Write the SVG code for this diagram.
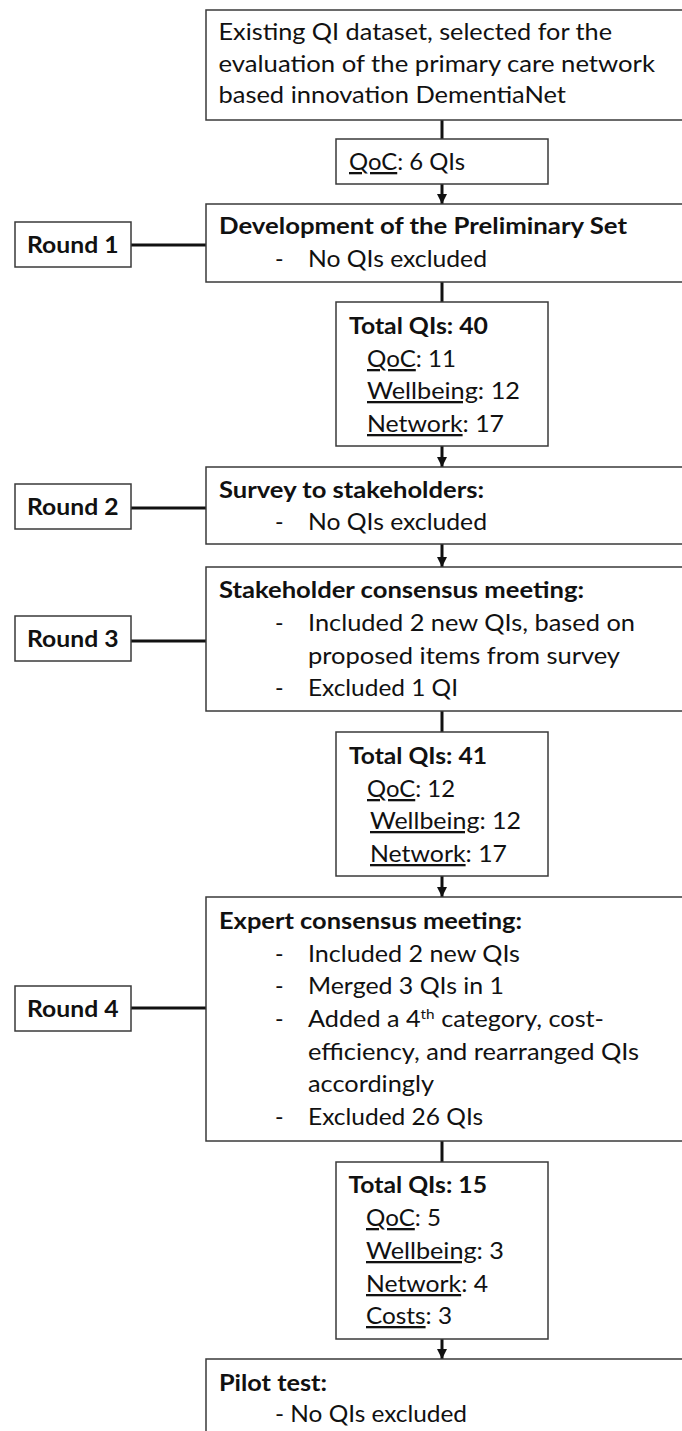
<svg xmlns="http://www.w3.org/2000/svg" width="682" height="1431" viewBox="0 0 682 1431">
<style>
.bg{fill:#ffffff}
.box{fill:#ffffff;stroke:#3a3a3a;stroke-width:1.5}
.con{stroke:#111;stroke-width:3;fill:none}
.t{font-family:Lato,"Liberation Sans",sans-serif;font-size:23px;fill:#111}
.b{font-weight:bold}
.u{text-decoration:underline}
</style>
<defs>
<marker id="ah" markerUnits="userSpaceOnUse" markerWidth="10" markerHeight="10" refX="10" refY="5" orient="auto">
<path d="M0,0 L10,5 L0,10 z" fill="#111"/>
</marker>
</defs>
<rect class="bg" x="0" y="0" width="682" height="1431"/>

<g id="connectors">
<line class="con" x1="442" y1="120" x2="442" y2="139"/>
<line class="con" x1="442" y1="184" x2="442" y2="204" marker-end="url(#ah)"/>
<line class="con" x1="442" y1="282" x2="442" y2="302"/>
<line class="con" x1="442" y1="446" x2="442" y2="467" marker-end="url(#ah)"/>
<line class="con" x1="442" y1="544" x2="442" y2="567" marker-end="url(#ah)"/>
<line class="con" x1="442" y1="711" x2="442" y2="732"/>
<line class="con" x1="442" y1="876" x2="442" y2="897" marker-end="url(#ah)"/>
<line class="con" x1="442" y1="1141" x2="442" y2="1162"/>
<line class="con" x1="442" y1="1339" x2="442" y2="1359" marker-end="url(#ah)"/>
<line class="con" x1="131" y1="245" x2="206" y2="245"/>
<line class="con" x1="131" y1="508" x2="206" y2="508"/>
<line class="con" x1="131" y1="641" x2="206" y2="641"/>
<line class="con" x1="131" y1="1008" x2="206" y2="1008"/>
</g>

<g id="existing">
<rect class="box" x="206" y="10" width="500" height="110"/>
<text class="t" x="218.5" y="40" textLength="393.5" lengthAdjust="spacingAndGlyphs">Existing QI dataset, selected for the</text>
<text class="t" x="218.5" y="71.5" textLength="436.5" lengthAdjust="spacingAndGlyphs">evaluation of the primary care network</text>
<text class="t" x="218.5" y="103" textLength="347.5" lengthAdjust="spacingAndGlyphs">based innovation DementiaNet</text>
</g>

<g id="qoc6">
<rect class="box" x="336" y="139" width="212" height="45"/>
<text class="t" x="349" y="170" textLength="116" lengthAdjust="spacingAndGlyphs"><tspan class="u">QoC</tspan>: 6 QIs</text>
</g>

<g id="round1">
<rect class="box" x="15" y="222" width="116" height="45"/>
<text class="t b" x="27" y="253" textLength="91.5" lengthAdjust="spacingAndGlyphs">Round 1</text>
</g>

<g id="development">
<rect class="box" x="206" y="204" width="500" height="78"/>
<text class="t b" x="219" y="234" textLength="408" lengthAdjust="spacingAndGlyphs">Development of the Preliminary Set</text>
<text class="t" x="275" y="267">-</text>
<text class="t" x="308" y="267" textLength="179" lengthAdjust="spacingAndGlyphs">No QIs excluded</text>
</g>

<g id="total40">
<rect class="box" x="336" y="302" width="212" height="144"/>
<text class="t b" x="349" y="334" textLength="139" lengthAdjust="spacingAndGlyphs">Total QIs: 40</text>
<text class="t" x="367" y="367" textLength="89" lengthAdjust="spacingAndGlyphs"><tspan class="u">QoC</tspan>: 11</text>
<text class="t" x="367" y="399" textLength="153" lengthAdjust="spacingAndGlyphs"><tspan class="u">Wellbeing</tspan>: 12</text>
<text class="t" x="367" y="432" textLength="137" lengthAdjust="spacingAndGlyphs"><tspan class="u">Network</tspan>: 17</text>
</g>

<g id="round2">
<rect class="box" x="15" y="484" width="116" height="45"/>
<text class="t b" x="27" y="515" textLength="91.5" lengthAdjust="spacingAndGlyphs">Round 2</text>
</g>

<g id="survey">
<rect class="box" x="206" y="467" width="500" height="77"/>
<text class="t b" x="219" y="498" textLength="265" lengthAdjust="spacingAndGlyphs">Survey to stakeholders:</text>
<text class="t" x="275" y="530">-</text>
<text class="t" x="308" y="530" textLength="179" lengthAdjust="spacingAndGlyphs">No QIs excluded</text>
</g>

<g id="round3">
<rect class="box" x="15" y="616" width="116" height="45"/>
<text class="t b" x="27" y="647" textLength="91.5" lengthAdjust="spacingAndGlyphs">Round 3</text>
</g>

<g id="stakeholder">
<rect class="box" x="206" y="567" width="500" height="144"/>
<text class="t b" x="219" y="598" textLength="365" lengthAdjust="spacingAndGlyphs">Stakeholder consensus meeting:</text>
<text class="t" x="275" y="631">-</text>
<text class="t" x="308" y="631" textLength="327" lengthAdjust="spacingAndGlyphs">Included 2 new QIs, based on</text>
<text class="t" x="308" y="664" textLength="312" lengthAdjust="spacingAndGlyphs">proposed items from survey</text>
<text class="t" x="275" y="696">-</text>
<text class="t" x="308" y="696" textLength="150" lengthAdjust="spacingAndGlyphs">Excluded 1 QI</text>
</g>

<g id="total41">
<rect class="box" x="336" y="732" width="212" height="144"/>
<text class="t b" x="349" y="764" textLength="138" lengthAdjust="spacingAndGlyphs">Total QIs: 41</text>
<text class="t" x="367" y="797" textLength="88" lengthAdjust="spacingAndGlyphs"><tspan class="u">QoC</tspan>: 12</text>
<text class="t" x="370" y="829" textLength="151" lengthAdjust="spacingAndGlyphs"><tspan class="u">Wellbeing</tspan>: 12</text>
<text class="t" x="370" y="862" textLength="137" lengthAdjust="spacingAndGlyphs"><tspan class="u">Network</tspan>: 17</text>
</g>

<g id="round4">
<rect class="box" x="15" y="986" width="116" height="45"/>
<text class="t b" x="27" y="1017" textLength="91.5" lengthAdjust="spacingAndGlyphs">Round 4</text>
</g>

<g id="expert">
<rect class="box" x="206" y="897" width="500" height="244"/>
<text class="t b" x="219" y="929" textLength="303" lengthAdjust="spacingAndGlyphs">Expert consensus meeting:</text>
<text class="t" x="275" y="962">-</text>
<text class="t" x="308" y="962" textLength="212" lengthAdjust="spacingAndGlyphs">Included 2 new QIs</text>
<text class="t" x="275" y="994">-</text>
<text class="t" x="308" y="994" textLength="196" lengthAdjust="spacingAndGlyphs">Merged 3 QIs in 1</text>
<text class="t" x="275" y="1027">-</text>
<text class="t" x="308" y="1027" textLength="296" lengthAdjust="spacingAndGlyphs">Added a 4<tspan dy="-8" font-size="14">th</tspan><tspan dy="8"> category, cost-</tspan></text>
<text class="t" x="308" y="1060" textLength="331" lengthAdjust="spacingAndGlyphs">efficiency, and rearranged QIs</text>
<text class="t" x="308" y="1092" textLength="126" lengthAdjust="spacingAndGlyphs">accordingly</text>
<text class="t" x="275" y="1125">-</text>
<text class="t" x="308" y="1125" textLength="175" lengthAdjust="spacingAndGlyphs">Excluded 26 QIs</text>
</g>

<g id="total15">
<rect class="box" x="336" y="1162" width="212" height="177"/>
<text class="t b" x="348.5" y="1193" textLength="138.5" lengthAdjust="spacingAndGlyphs">Total QIs: 15</text>
<text class="t" x="366" y="1226" textLength="75" lengthAdjust="spacingAndGlyphs"><tspan class="u">QoC</tspan>: 5</text>
<text class="t" x="366" y="1259" textLength="138" lengthAdjust="spacingAndGlyphs"><tspan class="u">Wellbeing</tspan>: 3</text>
<text class="t" x="366" y="1292" textLength="122" lengthAdjust="spacingAndGlyphs"><tspan class="u">Network</tspan>: 4</text>
<text class="t" x="366" y="1324" textLength="86" lengthAdjust="spacingAndGlyphs"><tspan class="u">Costs</tspan>: 3</text>
</g>

<g id="pilot">
<rect class="box" x="206" y="1359" width="500" height="100"/>
<text class="t b" x="219" y="1391" textLength="108" lengthAdjust="spacingAndGlyphs">Pilot test:</text>
<text class="t" x="275" y="1422" textLength="192" lengthAdjust="spacingAndGlyphs">- No QIs excluded</text>
</g>
</svg>
